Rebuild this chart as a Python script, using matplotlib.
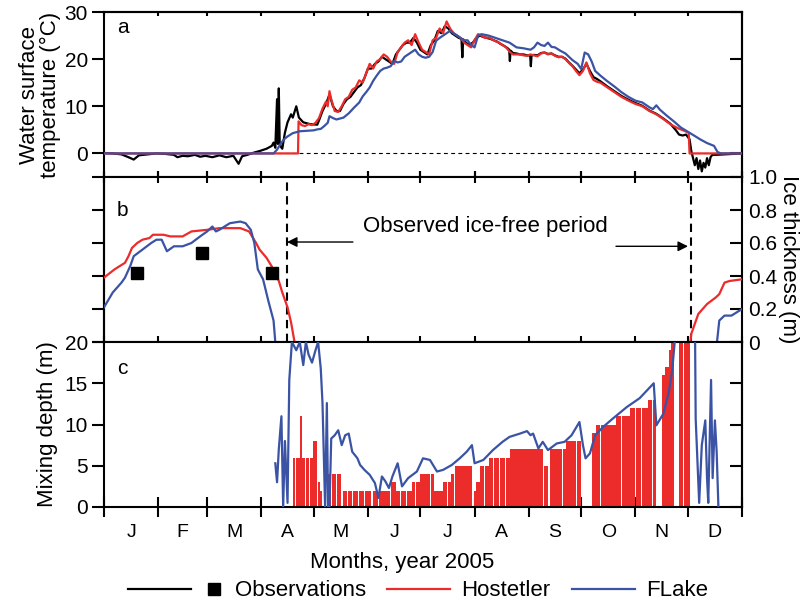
import matplotlib
matplotlib.use("Agg")
import matplotlib.pyplot as plt
from matplotlib.lines import Line2D
from matplotlib.legend_handler import HandlerBase
from matplotlib.ticker import FixedLocator, FixedFormatter, NullFormatter

plt.rcParams['font.family'] = ['Liberation Sans', 'DejaVu Sans']

RED = '#ec2b2b'
BLUE = '#3a53a4'

# ---------------- data: day of year 2005 ----------------
month_start = [0, 31, 59, 90, 120, 151, 181, 212, 243, 273, 304, 334, 365]
month_letters = ['J', 'F', 'M', 'A', 'M', 'J', 'J', 'A', 'S', 'O', 'N', 'D']

# (a) water surface temperature, observed
obs_t_day = [0, 5, 10, 14, 17, 20, 25, 30, 35, 40, 42, 45, 48, 52, 55, 58, 62, 66,
             70, 74, 77, 79, 82, 86, 89, 93, 96, 97, 98, 99, 99.5, 100, 100.5, 101,
             102, 103.5, 105, 107, 108, 110, 111.5, 114, 118, 122,
             123, 125, 127, 129, 131, 133, 135, 137, 139, 141, 143, 145, 147, 149,
             151, 153, 155, 157, 159, 161, 163, 165, 167, 169, 171, 173, 175, 177,
             179, 181, 183, 185, 187, 189, 191, 193, 195, 197, 199, 201, 203, 204.5,
             205, 205.5, 207, 209, 211, 213, 215, 217, 219, 221, 223, 225, 227, 229,
             231, 231.8, 232.2, 232.6, 234, 236, 238, 240, 242, 243.8, 244.2, 244.6,
             246, 248, 250, 252, 254, 256, 258, 260, 262, 264, 266, 268, 270, 272,
             274, 276, 278, 280, 282, 284, 288, 292, 296, 300, 304, 308, 312, 316,
             320, 324, 327, 329, 331, 333, 335, 336, 337, 338, 339, 340, 341, 342,
             343, 344, 345, 346, 347, 348, 350, 355, 360, 365]
obs_t = [0.1, 0.0, -0.2, -0.8, -1.3, -0.4, -0.2, 0.0, -0.1, -0.3, -0.8, -0.5, -0.6,
         -0.3, -0.7, -0.5, -0.8, -0.4, -0.8, -0.5, -2.2, -0.6, -0.3, 0.2, 0.5, 1.0,
         1.6, 2.3, 1.2, 11.5, 2.0, 13.8, 2.5, 1.5, 1.0, 4.4, 6.6, 8.3, 7.6, 10.0,
         7.6, 6.6, 6.2, 6.1,
         7.0, 9.0, 10.5, 12.5, 10.0, 9.0, 9.0, 10.5, 11.5, 12.0, 13.0, 14.0, 14.5,
         16.0, 18.0, 18.0, 19.0, 19.5, 20.5, 20.0, 19.5, 19.0, 21.0, 22.0, 23.0,
         23.5, 23.5, 24.5, 23.5, 22.0, 21.5, 21.0, 23.0, 24.0, 26.0, 25.5, 27.0,
         26.5, 25.5, 25.0, 24.5, 24.3, 20.4, 24.2, 23.5, 23.0, 23.5, 24.5, 25.0,
         24.7, 24.5, 24.3, 24.0, 23.7, 23.2, 22.8, 22.3, 22.0, 19.6, 21.8, 21.3,
         21.2, 21.0, 21.0, 20.8, 20.8, 18.5, 20.8, 20.9, 20.8, 21.3, 21.4, 21.1,
         21.2, 20.8, 20.5, 20.5, 20.1, 19.3, 18.6, 17.8, 17.0, 17.8, 19.0, 17.5,
         16.2, 15.8, 15.3, 14.2, 13.2, 12.2, 11.4, 10.7, 10.1, 9.1, 8.4, 7.4, 6.3,
         5.0, 4.0, 3.8, 4.0, 3.0, 0.5, -1.0, -2.5, -1.0, -3.3, -1.5, -3.8, -2.0,
         -3.0, -1.0, -2.5, -0.8, -0.3, -0.3, -0.2, -0.1, 0.0]

# (a) Hostetler model
hos_t_day = [0, 111, 111.3, 113, 115, 117, 119, 121, 123, 125, 127, 128, 129, 130,
             132, 134, 136, 138, 140, 142, 144, 146, 148, 150, 152, 154, 156, 158,
             160, 162, 164, 166, 168, 170, 172, 174, 176, 178, 180, 182, 184, 186,
             188, 190, 192, 194, 196, 198, 200, 202, 204, 206, 208, 210, 212, 214,
             216, 218, 220, 222, 224, 226, 228, 230, 232, 234, 236, 238, 240, 242,
             244, 246, 248, 250, 252, 254, 256, 258, 260, 262, 264, 266, 268, 270,
             272, 274, 276, 278, 280, 282, 284, 288, 292, 296, 300, 304, 308, 312,
             316, 320, 324, 328, 332, 334.5, 335, 365]
hos_t = [0, 0, 6.8, 6.0, 5.8, 6.2, 6.0, 6.5, 7.5, 9.5, 11.0, 10.0, 13.2, 11.5, 9.0,
         8.8, 10.0, 11.5, 12.0, 13.5, 14.0, 15.5, 15.0, 17.0, 19.0, 18.0, 19.5,
         20.0, 21.0, 20.5, 19.5, 19.0, 21.5, 22.5, 23.5, 24.0, 23.0, 25.3, 23.5,
         22.0, 21.5, 21.0, 24.0, 24.5, 26.5, 25.5, 28.0, 26.5, 25.5, 25.0, 24.5,
         23.5, 23.0, 22.5, 24.0, 25.3, 25.0, 24.5, 24.6, 24.2, 23.8, 23.5, 23.0,
         22.5, 21.6, 21.0, 21.0, 21.0, 20.8, 20.7, 21.0, 20.8, 20.6, 21.2, 21.4,
         21.0, 21.2, 20.7, 20.4, 20.5, 20.0, 19.2, 18.5, 17.5, 16.6, 17.5, 19.3,
         17.0, 15.6, 15.2, 15.0, 14.0, 13.0, 12.0, 11.2, 10.5, 10.0, 9.0, 8.3, 7.3,
         6.2, 5.4, 4.8, 4.4, 0, 0]

# (a) FLake model
flk_t_day = [0, 97, 99, 101, 103, 105, 108, 112, 116, 120, 122, 124, 126, 128,
             129, 131, 133, 135, 137, 140, 143, 146, 148, 150, 152, 154, 156, 158,
             160, 162, 164, 166, 168, 170, 172, 174, 176, 178, 180, 182, 184, 186,
             188, 190, 192, 194, 196, 198, 200, 202, 204, 206, 208, 210, 212, 214,
             216, 220, 224, 228, 232, 236, 240, 244, 246, 248, 250, 252, 254, 256,
             258, 261, 264, 268, 271, 273, 275, 277, 279, 281, 284, 288, 292, 296,
             300, 304, 308, 312, 314, 316, 318, 322, 326, 330, 334, 338, 341, 343,
             345, 347, 349, 351, 353, 365]
flk_t = [0, 0, 0.8, 2.0, 3.0, 3.6, 4.3, 4.7, 4.8, 4.9, 5.1, 5.2, 5.8, 6.5, 7.9,
         7.5, 7.2, 7.4, 7.6, 8.5, 9.7, 10.8, 12.1, 13.0, 14.0, 15.4, 16.5, 17.5,
         18.0, 18.2, 18.5, 19.6, 19.3, 19.5, 20.5, 21.0, 21.5, 22.0, 21.0, 20.5,
         20.3, 20.5, 21.5, 23.9, 24.5, 25.0, 25.5, 26.0, 25.5, 25.0, 24.5, 24.0,
         24.0, 23.0, 22.5, 25.0, 25.3, 25.0, 24.5, 24.0, 23.5, 22.5, 22.3, 22.0,
         22.5, 23.5, 23.0, 22.8, 23.5, 22.6, 22.5, 21.8, 21.2, 19.8, 19.0, 17.9,
         21.4, 21.0, 19.5, 17.5, 16.5, 15.3, 14.2, 13.0, 12.0, 11.2, 10.8, 9.8, 9.4,
         10.2, 9.3, 8.0, 6.8, 5.5, 4.6, 3.7, 3.0, 2.6, 2.2, 1.9, 1.6, 0.3, 0, 0]

# (b) ice thickness
obs_ice_day = [19, 56, 96]
obs_ice = [0.42, 0.54, 0.42]

hos_ice_day = [0, 6, 12, 14, 16, 19, 22, 26, 28, 34, 38, 45, 50, 59, 66, 78, 83,
               87, 89, 93, 97, 100, 102, 105, 107, 109]
hos_ice = [0.39, 0.44, 0.48, 0.52, 0.57, 0.60, 0.62, 0.63, 0.65, 0.65, 0.64, 0.64,
           0.67, 0.68, 0.69, 0.69, 0.67, 0.60, 0.56, 0.51, 0.44, 0.37, 0.30, 0.21,
           0.12, 0.0]
hos_ice_day2 = [335.5, 336, 340, 345, 350, 352, 355, 358, 365]
hos_ice2 = [0, 0.05, 0.17, 0.23, 0.27, 0.29, 0.36, 0.37, 0.38]

flk_ice_day = [0, 5, 10, 12, 15, 17, 22, 27, 30, 33, 36, 40, 45, 50, 55, 59, 62,
               64, 66, 72, 78, 81, 84, 86, 88, 91, 94, 97, 98]
flk_ice = [0.21, 0.30, 0.36, 0.39, 0.46, 0.52, 0.56, 0.60, 0.62, 0.62, 0.55, 0.58,
           0.58, 0.60, 0.64, 0.67, 0.70, 0.67, 0.68, 0.72, 0.73, 0.72, 0.68, 0.60,
           0.44, 0.38, 0.25, 0.13, 0.0]
flk_ice_day2 = [350.7, 352, 355, 359, 365]
flk_ice2 = [0, 0.13, 0.16, 0.16, 0.20]

ice_off_day = 104.7
ice_on_day = 335.6

# (c) mixing depth
flk_mix_day = [98, 99, 100, 101.5, 102.5, 103.5, 105, 106, 107.5, 110, 112, 114,
               115.5, 117, 119, 121, 122.5, 124, 125, 126.5, 127.5, 128.2, 129, 130,
               132, 134, 136, 138, 140, 142, 145, 146.5, 149, 152, 155, 157, 159,
               161, 163, 165, 168, 170.5, 174, 179, 182.5, 186.5, 190.5, 194, 199,
               203.5, 207.5, 210.5, 212, 217, 222.5, 228, 232, 238, 242, 244, 245.5,
               248.5, 251, 254, 259, 263.5, 267.5, 272, 274, 275.5, 278, 281, 285.5,
               291, 299, 306.5, 314.5, 316, 320, 323, 325, 326.5, 330, 334, 338,
               338.5, 340.5, 342, 344, 345, 345.7, 347.3, 348.2, 349.5, 350.5, 351.5]
flk_mix = [5.3, 3.0, 7.0, 11.0, 0.0, 8.0, 0.5, 15.4, 20.0, 19.0, 20.0, 17.2, 20.0,
           18.5, 17.5, 19.0, 20.0, 16.8, 12.6, 0.0, 12.6, 0.0, 0.0, 8.3, 8.7, 9.3,
           7.5, 8.7, 8.9, 6.7, 5.9, 5.1, 4.5, 3.9, 2.9, 1.1, 3.7, 3.1, 2.3, 3.7,
           5.3, 2.5, 3.5, 4.3, 5.9, 5.7, 4.3, 4.5, 5.1, 5.9, 6.7, 7.5, 5.3, 5.7, 6.9,
           7.9, 8.5, 8.9, 9.2, 8.7, 8.9, 7.1, 7.9, 6.9, 7.7, 7.9, 8.7, 10.3, 7.5,
           5.9, 6.5, 8.7, 9.7, 10.7, 12.1, 13.2, 15.0, 9.9, 11.3, 13.8, 16.4, 20.0,
           25.0, 25.0, 25.0, 10.7, 0.5, 7.5, 10.5, 3.5, 0.5, 15.4, 3.5, 10.5, 6.7,
           0.0]

# Hostetler mixing depth: depth held from each start day to the next one
hos_mix_day = [108.0, 109.5, 109.9, 112.0, 113.5, 115.0, 115.4, 117.5, 117.9, 119.5,
               121.8, 122.2, 123.5, 124.5, 128.0, 130.0, 130.4, 133.0, 133.4, 135.5,
               137.0, 139.0, 139.4, 142.0, 142.4, 145.5, 145.9, 149.0, 149.5, 153.0,
               154.0, 157.0, 157.4, 160.0, 160.4, 163.5, 164.0, 167.0, 169.5, 169.9,
               173.0, 173.4, 176.0, 178.0, 178.4, 181.0, 183.5, 183.9, 186.5, 186.9,
               189.0, 191.5, 191.9, 194.0, 196.5, 196.9, 198.5, 200.5, 200.9, 204.0,
               204.4, 207.5, 207.9, 210.5, 211.5, 213.0, 215.0, 217.5, 217.9, 220.0,
               222.5, 222.9, 226.0, 226.4, 229.5, 229.9, 232.0, 235.0, 235.4, 239.0,
               239.4, 243.0, 243.4, 247.0, 247.4, 251.0, 251.6, 254.0, 255.0, 259.0,
               259.4, 262.0, 262.4, 264.5, 267.0, 267.4, 270.0, 270.4, 273.0, 279.0,
               281.5, 284.0, 284.4, 287.5, 287.9, 291.0, 291.4, 293.0, 296.0, 296.4,
               299.5, 299.9, 301.0, 304.0, 304.4, 307.5, 307.9, 311.0, 313.5, 313.9,
               316.0, 319.0, 321.0, 323.0, 323.5, 324.5, 326.0, 329.0, 331.5, 331.9,
               335.0]
hos_mix = [6, 0, 6, 11, 6, 0, 6, 0, 6, 8,
           0, 3, 2, 0, 4, 0, 4, 0, 4, 0,
           2, 0, 2, 0, 2, 0, 2, 0, 2, 0,
           2, 0, 2, 0, 2, 0, 3, 2, 0, 2,
           0, 2, 3, 0, 3, 4, 0, 4, 0, 4,
           2, 0, 2, 3, 0, 3, 4, 0, 5, 0,
           5, 0, 5, 0, 2, 3, 5, 0, 5, 6,
           0, 6, 0, 6, 0, 6, 7, 0, 7, 0,
           7, 0, 7, 0, 7, 0, 5, 0, 7, 0,
           7, 0, 7, 8, 0, 8, 0, 8, 0, 9,
           10, 0, 10, 0, 10, 0, 10, 11, 0, 11,
           0, 11, 12, 0, 12, 0, 12, 13, 0, 13,
           0, 16, 17, 0, 19, 25, 0, 25, 0, 25,
           0]

# ---------------- figure layout ----------------
W, H = 809, 604
fig = plt.figure(figsize=(W / 100, H / 100), dpi=100)
L, R = 104, 742


def panel(top, bottom):
    return fig.add_axes([L / W, 1 - bottom / H, (R - L) / W, (bottom - top) / H])


ax_a = panel(12, 177)
ax_b = panel(177, 342)
ax_c = panel(342, 507)

SPW = 1.5
TICKFS = 15
for ax in (ax_a, ax_b, ax_c):
    ax.set_xlim(0, 365)
    for s in ax.spines.values():
        s.set_linewidth(SPW)
    ax.xaxis.set_major_locator(FixedLocator(month_start))
    ax.xaxis.set_major_formatter(NullFormatter())
    ax.tick_params(axis='x', which='major', direction='inout', length=9,
                   width=SPW, top=True, bottom=True)

# top of the upper panel: short inward ticks
ax_a.tick_params(axis='x', top=False)
sec_top = ax_a.secondary_xaxis('top')
sec_top.set_xticks(month_start)
sec_top.tick_params(axis='x', direction='in', length=3, width=SPW, labeltop=False)
sec_top.spines['top'].set_linewidth(SPW)

# bottom of the lowest panel: month letters between month ticks
ax_c.tick_params(axis='x', top=False, length=14)
mids = [(a + b) / 2 for a, b in zip(month_start[:-1], month_start[1:])]
ax_c.xaxis.set_minor_locator(FixedLocator(mids))
ax_c.xaxis.set_minor_formatter(FixedFormatter(month_letters))
ax_c.tick_params(axis='x', which='minor', length=0, pad=12, labelsize=14)
ax_c.set_xlabel('Months, year 2005', fontsize=16)
ax_c.xaxis.set_label_coords((402 - L) / (R - L), -0.27)


def inner_right(ax, ticks):
    sec = ax.secondary_yaxis('right')
    sec.set_yticks(ticks)
    sec.tick_params(axis='y', direction='in', length=9, width=SPW, labelright=False)
    sec.spines['right'].set_linewidth(SPW)
    return sec


# ---------------- (a) temperature ----------------
ax_a.set_ylim(-5, 30)
ax_a.set_yticks([0, 10, 20, 30])
ax_a.tick_params(axis='y', direction='out', length=9, width=SPW, pad=2.5,
                 labelsize=TICKFS, right=False)
inner_right(ax_a, [0, 10, 20, 30])
ax_a.axhline(0, color='k', lw=0.8, ls=(0, (3.5, 3)), zorder=1)
ax_a.plot(obs_t_day, obs_t, color='k', lw=1.6, zorder=2)
ax_a.plot(hos_t_day, hos_t, color=RED, lw=1.6, zorder=3)
ax_a.plot(flk_t_day, flk_t, color=BLUE, lw=1.6, zorder=4)
ax_a.set_ylabel('Water surface\ntemperature (\u00b0C)', fontsize=16,
                linespacing=1.05, va='center')
ax_a.yaxis.set_label_coords((40 - L) / (R - L), 0.5)
ax_a.text(0.02, 0.905, 'a', transform=ax_a.transAxes, fontsize=15,
          ha='left', va='center')

# ---------------- (b) ice thickness ----------------
ax_b.set_ylim(0, 1.0)
ice_ticks = [0, 0.2, 0.4, 0.6, 0.8, 1.0]
ax_b.yaxis.tick_right()
ax_b.yaxis.set_label_position('right')
ax_b.set_yticks(ice_ticks)
ax_b.set_yticklabels(['0', '0.2', '0.4', '0.6', '0.8', '1.0'])
ax_b.tick_params(axis='y', direction='in', length=9, width=SPW, pad=4.5,
                 labelsize=TICKFS, left=False, right=True, labelleft=False,
                 labelright=True)
sec_left = ax_b.secondary_yaxis('left')
sec_left.set_yticks(ice_ticks)
sec_left.tick_params(axis='y', direction='out', length=9, width=SPW, labelleft=False)
sec_left.spines['left'].set_linewidth(SPW)

ax_b.plot(hos_ice_day, hos_ice, color=RED, lw=1.6, zorder=3)
ax_b.plot(hos_ice_day2, hos_ice2, color=RED, lw=1.6, zorder=3)
ax_b.plot(flk_ice_day, flk_ice, color=BLUE, lw=1.6, zorder=4)
ax_b.plot(flk_ice_day2, flk_ice2, color=BLUE, lw=1.6, zorder=4)
ax_b.plot(obs_ice_day, obs_ice, ls='none', marker='s', ms=9, color='k', zorder=5)
for d in (ice_off_day, ice_on_day):
    ax_b.axvline(d, color='k', lw=1.5, ls=(0, (4, 2.6)), zorder=2)
arrow = dict(arrowstyle='-|>', color='k', lw=1.0, mutation_scale=15,
             shrinkA=0, shrinkB=0)
ax_b.annotate('', xy=(ice_off_day, 0.606), xytext=(142.4, 0.606), arrowprops=arrow)
ax_b.annotate('', xy=(ice_on_day - 1.5, 0.58), xytext=(292.9, 0.58), arrowprops=arrow)
ax_b.text(218, 0.664, 'Observed ice-free period', fontsize=16, ha='center',
          va='baseline')
ax_b.set_ylabel('Ice thickness (m)', fontsize=16, rotation=270, va='center')
ax_b.yaxis.set_label_coords((789 - L) / (R - L), 0.5)
ax_b.text(0.02, 0.80, 'b', transform=ax_b.transAxes, fontsize=15,
          ha='left', va='center')

# ---------------- (c) mixing depth ----------------
ax_c.set_ylim(0, 20)
ax_c.set_yticks([0, 5, 10, 15, 20])
ax_c.tick_params(axis='y', direction='out', length=9, width=SPW, pad=2.5,
                 labelsize=TICKFS, right=False)
inner_right(ax_c, [0, 5, 10, 15, 20])
ax_c.fill_between(hos_mix_day, hos_mix, step='post', color=RED, lw=0, zorder=2)
ax_c.plot(flk_mix_day, flk_mix, color=BLUE, lw=1.6, zorder=3)
ax_c.set_ylabel('Mixing depth (m)', fontsize=16, va='center')
ax_c.yaxis.set_label_coords((47 - L) / (R - L), 0.5)
ax_c.text(0.02, 0.84, 'c', transform=ax_c.transAxes, fontsize=15,
          ha='left', va='center')


# ---------------- legend ----------------
class LineSquareHandler(HandlerBase):
    """Legend key: a line followed by a square marker."""

    def create_artists(self, legend, orig_handle, xdescent, ydescent, width,
                       height, fontsize, trans):
        y = height / 2 - ydescent
        x0 = -xdescent
        line = Line2D([x0 - 0.52 * width, x0 + 0.47 * width], [y, y],
                      color='k', lw=1.6, transform=trans)
        sq = Line2D([x0 + 0.84 * width], [y], ls='none', marker='s', ms=9,
                    color='k', transform=trans)
        return [line, sq]


obs_handle = Line2D([], [], color='k')
handles = [obs_handle,
           Line2D([], [], color=RED, lw=1.6),
           Line2D([], [], color=BLUE, lw=1.6)]
fig.legend(handles, ['Observations', 'Hostetler', 'FLake'],
           handler_map={obs_handle: LineSquareHandler()},
           loc='center', bbox_to_anchor=(434.5 / W, 1 - 591 / H), ncol=3,
           frameon=False, fontsize=16, handlelength=2.84, handletextpad=0.5,
           columnspacing=0.95, borderpad=0, borderaxespad=0)

fig.savefig('out.png', dpi=100)
